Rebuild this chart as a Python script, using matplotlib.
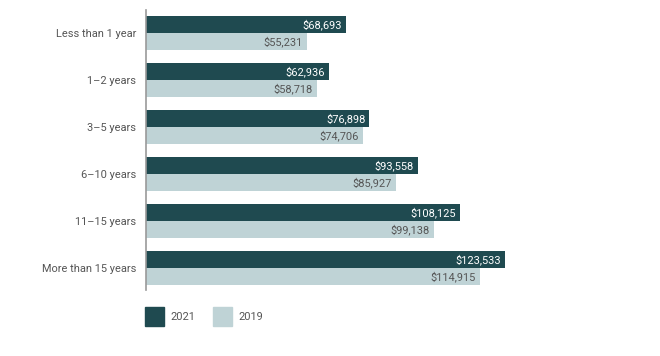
import matplotlib.pyplot as plt
from matplotlib.patches import Rectangle

categories = ['Less than 1 year', '1\u20132 years', '3\u20135 years', '6\u201310 years', '11\u201315 years', 'More than 15 years']
salary_2021 = [68693, 62936, 76898, 93558, 108125, 123533]
salary_2019 = [55231, 58718, 74706, 85927, 99138, 114915]
series_names = ['2021', '2019']

dark = '#1f4a50'
light = '#bfd3d6'
txt = '#555555'

plt.rcParams['font.family'] = ['Roboto', 'DejaVu Sans']
fs = 7.9

W, H = 660, 356
fig = plt.figure(figsize=(W / 100, H / 100), dpi=100)
# axes placed in pixel coords: left edge 146, top 10, bottom 290
ax = fig.add_axes([146 / W, (H - 290) / H, (620 - 146) / W, 280 / H])

px_per_unit = 474 / 163100
ax.set_xlim(0, 163100)
ax.set_ylim(5.468, -0.489)

bh = 17 / 47
ys = list(range(len(categories)))
ax.barh([y - bh / 2 for y in ys], salary_2021, height=bh, color=dark)
ax.barh([y + bh / 2 for y in ys], salary_2019, height=bh, color=light)

pad = 4 / px_per_unit
for y, v in zip(ys, salary_2021):
    ax.text(v - pad, y - bh / 2, f'${v:,}', ha='right', va='center', color='white', fontsize=fs)
for y, v in zip(ys, salary_2019):
    ax.text(v - pad, y + bh / 2, f'${v:,}', ha='right', va='center', color=txt, fontsize=fs)

ax.set_yticks(ys)
ax.set_yticklabels(categories, color=txt, fontsize=fs)
ax.tick_params(axis='y', length=0, pad=7)
ax.set_xticks([])
for s in ['top', 'right', 'bottom']:
    ax.spines[s].set_visible(False)
ax.spines['left'].set_color('#999999')
ax.spines['left'].set_linewidth(1.2)

# legend drawn by hand to match the square swatches
for x0, col, name in [(145, dark, series_names[0]), (213, light, series_names[1])]:
    fig.patches.append(Rectangle((x0 / W, (H - 326) / H), 19 / W, 19 / H,
                                 transform=fig.transFigure, color=col))
    fig.text((x0 + 25) / W, (H - 317) / H, name, color=txt, fontsize=fs, va='center')

fig.savefig('out.png', dpi=100)
